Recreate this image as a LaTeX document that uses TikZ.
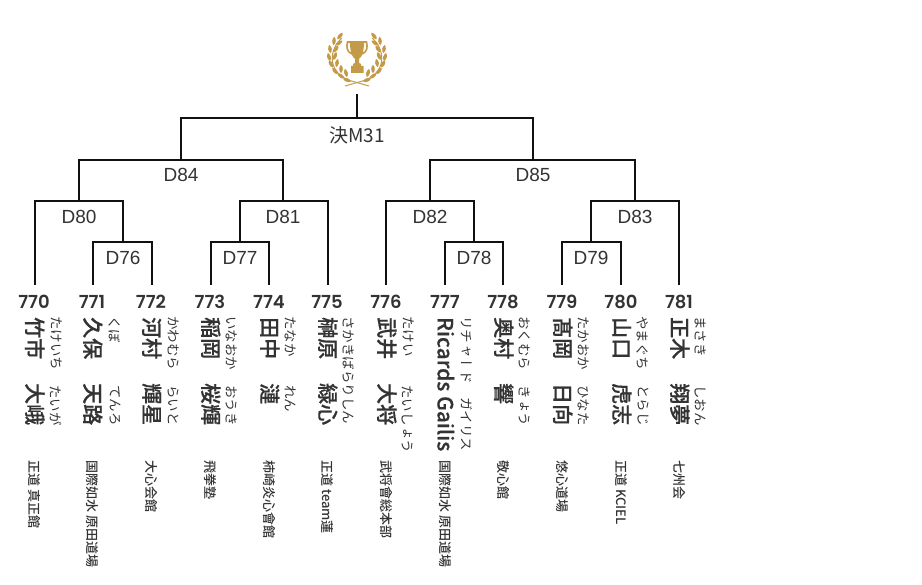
\documentclass[tikz,border=0pt]{standalone}
\usepackage{fontspec}
\usetikzlibrary{calc}
\setmainfont{Liberation Sans}
\newfontfamily\jpfont{Noto Sans CJK JP}
\newfontfamily\jpvert[Vertical=RotatedGlyphs,BoldFont={Noto Sans CJK JP Medium},BoldFeatures={FakeBold=0.5}]{Noto Sans CJK JP}
\newfontfamily\jpdojo[Vertical=RotatedGlyphs]{Noto Sans CJK JP Medium}
\newfontfamily\numfont[BoldFont={Poppins SemiBold}]{Poppins}
\definecolor{Ink}{HTML}{111111}
\definecolor{Label}{HTML}{333333}
\definecolor{Gold}{HTML}{C39A48}
\begin{document}
\begin{tikzpicture}[
  x=1pt,y=-1pt,
  link/.style={draw=Ink,line width=2.7pt,line cap=rect},
  matchlabel/.style={font=\fontsize{19}{19}\selectfont,text=Label,inner sep=0pt},
  seedno/.style={font=\fontsize{18}{18}\selectfont\numfont\bfseries,text=Label,inner sep=0pt},
  fullname/.style={xshift=0.8pt,font=\fontsize{21}{21}\selectfont\jpvert\bfseries,text=Label,rotate=-90,anchor=west,inner sep=0pt},
  reading/.style={xshift=1pt,font=\fontsize{13.5}{14}\selectfont\jpvert,text=Label,rotate=-90,anchor=west,inner sep=0pt},
  dojo/.style={xshift=0.5pt,font=\fontsize{13}{13}\selectfont\jpdojo,text=Label,rotate=-90,anchor=west,inner sep=0pt}
]
\useasboundingbox (0,0) rectangle (922,585);

% trophy
\fill[Gold] (350,42) -- (364,42) .. controls (364,52) and (362,57) .. (359,59) -- (359,63) -- (361,64) -- (361,66) -- (363.5,66) -- (363.5,73) -- (351,73) -- (351,66) -- (353,66) -- (353,64) -- (355,63) -- (355,59) .. controls (352,57) and (350,52) .. (350,42) -- cycle;
\draw[Gold,line width=1.6pt] (352,54) .. controls (347,52) and (346,47) .. (347.5,42) -- (366.5,42) .. controls (368,47) and (367,52) .. (362,54);
\draw[Gold,line width=1pt] (342,38) .. controls (330,48) and (326,70) .. (348,80) -- (369,86);
\draw[Gold,line width=1pt] (372,38) .. controls (384,48) and (388,70) .. (366,80) -- (345,86);
\foreach \lx/\ly/\la in {340/36/50,334/41/85,339/43/35,330/49/100,336/49/55,329/57/105,335/56/70,331/64/120,337/63/80,335/71/130,341/69/90,341/76/145,346/73/105,347/80/160}{
  \fill[Gold,rotate around={\la:(\lx,\ly)}] (\lx-4.2,\ly) .. controls (\lx-2,\ly-2.4) and (\lx+2,\ly-2.4) .. (\lx+4.2,\ly) .. controls (\lx+2,\ly+2.4) and (\lx-2,\ly+2.4) .. (\lx-4.2,\ly) -- cycle;
  \fill[Gold,rotate around={-\la:(714-\lx,\ly)}] (714-\lx-4.2,\ly) .. controls (714-\lx-2,\ly-2.4) and (714-\lx+2,\ly-2.4) .. (714-\lx+4.2,\ly) .. controls (714-\lx+2,\ly+2.4) and (714-\lx-2,\ly+2.4) .. (714-\lx-4.2,\ly) -- cycle;
}

% junctions of the bracket
\coordinate (top) at (357,95);
\coordinate (j31) at (357,118);
\coordinate (j84) at (181,160);
\coordinate (j85) at (533,160);
\coordinate (j80) at (79,201);
\coordinate (j81) at (283,201);
\coordinate (j82) at (430,201);
\coordinate (j83) at (635,201);
\coordinate (j76) at (123,242);
\coordinate (j77) at (240,242);
\coordinate (j78) at (474,242);
\coordinate (j79) at (591,242);
\coordinate (p770) at (35,284);
\coordinate (p771) at (93,284);
\coordinate (p772) at (152,284);
\coordinate (p773) at (211,284);
\coordinate (p774) at (269,284);
\coordinate (p775) at (328,284);
\coordinate (p776) at (386,284);
\coordinate (p777) at (445,284);
\coordinate (p778) at (503,284);
\coordinate (p779) at (562,284);
\coordinate (p780) at (621,284);
\coordinate (p781) at (679,284);

\draw[link] (top) -- (j31);
\draw[link] (j84) |- (j31) -| (j85);
\draw[link] (j80) |- (j84) -| (j81);
\draw[link] (j82) |- (j85) -| (j83);
\draw[link] (p770) |- (j80) -| (j76);
\draw[link] (j77) |- (j81) -| (p775);
\draw[link] (p776) |- (j82) -| (j78);
\draw[link] (j79) |- (j83) -| (p781);
\draw[link] (p771) |- (j76) -| (p772);
\draw[link] (p773) |- (j77) -| (p774);
\draw[link] (p777) |- (j78) -| (p778);
\draw[link] (p779) |- (j79) -| (p780);

% match labels
\node[matchlabel,font=\fontsize{19}{19}\selectfont\jpfont] (m31) at (357,135) {決M31};
\node[matchlabel] (m84) at (181,175) {D84};
\node[matchlabel] (m85) at (533,175) {D85};
\node[matchlabel] (m80) at (79,217) {D80};
\node[matchlabel] (m81) at (283,217) {D81};
\node[matchlabel] (m82) at (430,217) {D82};
\node[matchlabel] (m83) at (635,217) {D83};
\node[matchlabel] (m76) at (123,258) {D76};
\node[matchlabel] (m77) at (240,258) {D77};
\node[matchlabel] (m78) at (474,258) {D78};
\node[matchlabel] (m79) at (591,258) {D79};

% seed numbers
\node[seedno] (s770) at (34,302) {770};
\node[seedno] (s771) at (92,302) {771};
\node[seedno] (s772) at (151,302) {772};
\node[seedno] (s773) at (210,302) {773};
\node[seedno] (s774) at (269,302) {774};
\node[seedno] (s775) at (327,302) {775};
\node[seedno] (s776) at (386,302) {776};
\node[seedno] (s777) at (445,302) {777};
\node[seedno] (s778) at (503,302) {778};
\node[seedno] (s779) at (562,302) {779};
\node[seedno] (s780) at (621,302) {780};
\node[seedno] (s781) at (679,302) {781};

% names
\node[fullname] (fam770) at (34,317) {竹市};
\node[fullname] (giv770) at (34,383) {大峨};
\node[fullname] (fam771) at (92,317) {久保};
\node[fullname] (giv771) at (92,383) {天路};
\node[fullname] (fam772) at (151,317) {河村};
\node[fullname] (giv772) at (151,383) {輝星};
\node[fullname] (fam773) at (210,317) {稲岡};
\node[fullname] (giv773) at (210,383) {桜輝};
\node[fullname] (fam774) at (269,317) {田中};
\node[fullname] (giv774) at (269,383) {漣};
\node[fullname] (fam775) at (327,317) {榊原};
\node[fullname] (giv775) at (327,383) {緑心};
\node[fullname] (fam776) at (386,317) {武井};
\node[fullname] (giv776) at (386,383) {大将};
\node[fullname] (fam777) at (445,317) {Ricards Gailis};
\node[fullname] (fam778) at (503,317) {奥村};
\node[fullname] (giv778) at (503,383) {響};
\node[fullname] (fam779) at (562,317) {髙岡};
\node[fullname] (giv779) at (562,383) {日向};
\node[fullname] (fam780) at (621,317) {山口};
\node[fullname] (giv780) at (621,383) {虎志};
\node[fullname] (fam781) at (679,317) {正木};
\node[fullname] (giv781) at (679,383) {翔夢};

% readings
\node[reading] (rf770) at (55,316) {たけいち};
\node[reading] (rg770) at (55,385) {たいが};
\node[reading] (rf771) at (114,316) {くぼ};
\node[reading] (rg771) at (114,385) {てんろ};
\node[reading] (rf772) at (172,316) {かわむら};
\node[reading] (rg772) at (172,385) {らいと};
\node[reading] (rf773) at (231,316) {いなおか};
\node[reading] (rg773) at (231,385) {おうき};
\node[reading] (rf774) at (290,316) {たなか};
\node[reading] (rg774) at (290,385) {れん};
\node[reading] (rf775) at (348,316) {さかきばらりしん};
\node[reading] (rf776) at (407,316) {たけい};
\node[reading] (rg776) at (407,385) {たいしょう};
\node[reading] (rf777) at (466,316) {リチャード　ガイリス};
\node[reading] (rf778) at (524,316) {おくむら};
\node[reading] (rg778) at (524,385) {きょう};
\node[reading] (rf779) at (583,316) {たかおか};
\node[reading] (rg779) at (583,385) {ひなた};
\node[reading] (rf780) at (642,316) {やまぐち};
\node[reading] (rg780) at (642,385) {とらじ};
\node[reading] (rf781) at (700,316) {まさき};
\node[reading] (rg781) at (700,385) {しおん};

% dojo
\node[dojo] (d770) at (34,460) {正道 真正館};
\node[dojo] (d771) at (92,460) {国際如水 原田道場};
\node[dojo] (d772) at (151,460) {大心会館};
\node[dojo] (d773) at (210,460) {飛拳塾};
\node[dojo] (d774) at (269,460) {柿崎炎心會館};
\node[dojo] (d775) at (327,460) {正道 team蓮};
\node[dojo] (d776) at (386,460) {武将會総本部};
\node[dojo] (d777) at (445,460) {国際如水 原田道場};
\node[dojo] (d778) at (503,460) {敬心館};
\node[dojo] (d779) at (562,460) {悠心道場};
\node[dojo] (d780) at (621,460) {正道 KCIEL};
\node[dojo] (d781) at (679,460) {七州会};
\end{tikzpicture}
\end{document}
